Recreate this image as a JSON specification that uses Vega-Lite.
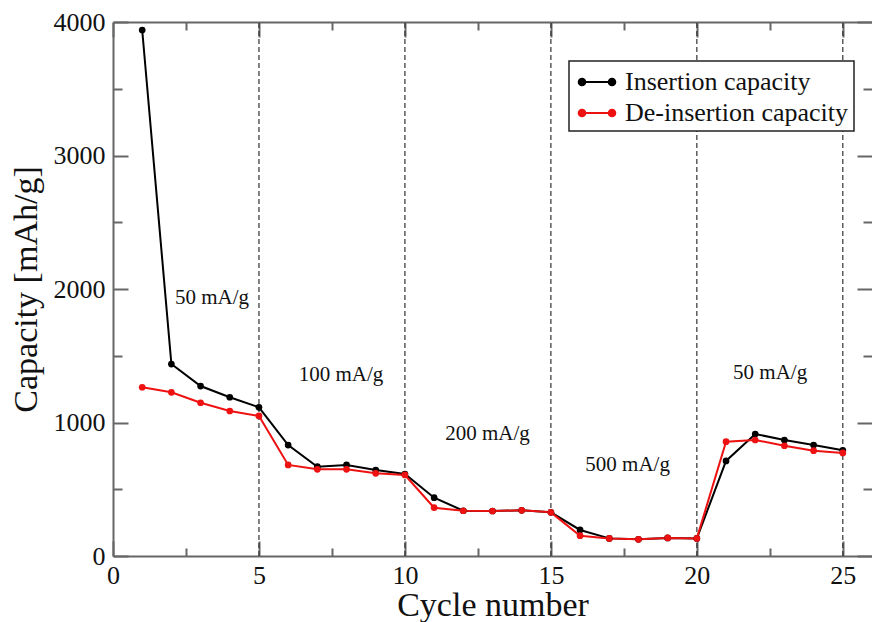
{
  "$schema": "https://vega.github.io/schema/vega-lite/v6.json",
  "width": 759,
  "height": 534,
  "autosize": {"type": "none"},
  "padding": {"left": 113, "top": 22, "right": 0, "bottom": 66},
  "background": "white",
  "config": {
    "view": {"stroke": null},
    "font": "Liberation Serif",
    "axis": {
      "grid": false,
      "labelFlush": false,
      "labelOverlap": false,
      "labelBound": false,
      "tickColor": "#666666",
      "tickWidth": 2,
      "domainColor": "#666666",
      "domainWidth": 2,
      "labelFont": "Liberation Serif",
      "titleFont": "Liberation Serif",
      "labelColor": "#111111",
      "titleColor": "#111111",
      "titleFontWeight": "normal"
    }
  },
  "datasets": {
    "capacity": [
      {"cycle": 1, "series": "Insertion capacity", "capacity": 3940},
      {"cycle": 2, "series": "Insertion capacity", "capacity": 1438},
      {"cycle": 3, "series": "Insertion capacity", "capacity": 1273},
      {"cycle": 4, "series": "Insertion capacity", "capacity": 1189},
      {"cycle": 5, "series": "Insertion capacity", "capacity": 1114},
      {"cycle": 6, "series": "Insertion capacity", "capacity": 831},
      {"cycle": 7, "series": "Insertion capacity", "capacity": 669},
      {"cycle": 8, "series": "Insertion capacity", "capacity": 682},
      {"cycle": 9, "series": "Insertion capacity", "capacity": 644},
      {"cycle": 10, "series": "Insertion capacity", "capacity": 614},
      {"cycle": 11, "series": "Insertion capacity", "capacity": 437},
      {"cycle": 12, "series": "Insertion capacity", "capacity": 339},
      {"cycle": 13, "series": "Insertion capacity", "capacity": 337},
      {"cycle": 14, "series": "Insertion capacity", "capacity": 342},
      {"cycle": 15, "series": "Insertion capacity", "capacity": 327},
      {"cycle": 16, "series": "Insertion capacity", "capacity": 195},
      {"cycle": 17, "series": "Insertion capacity", "capacity": 132},
      {"cycle": 18, "series": "Insertion capacity", "capacity": 125},
      {"cycle": 19, "series": "Insertion capacity", "capacity": 135},
      {"cycle": 20, "series": "Insertion capacity", "capacity": 132},
      {"cycle": 21, "series": "Insertion capacity", "capacity": 712},
      {"cycle": 22, "series": "Insertion capacity", "capacity": 914},
      {"cycle": 23, "series": "Insertion capacity", "capacity": 869},
      {"cycle": 24, "series": "Insertion capacity", "capacity": 831},
      {"cycle": 25, "series": "Insertion capacity", "capacity": 792},
      {"cycle": 1, "series": "De-insertion capacity", "capacity": 1264},
      {"cycle": 2, "series": "De-insertion capacity", "capacity": 1226},
      {"cycle": 3, "series": "De-insertion capacity", "capacity": 1148},
      {"cycle": 4, "series": "De-insertion capacity", "capacity": 1086},
      {"cycle": 5, "series": "De-insertion capacity", "capacity": 1049},
      {"cycle": 6, "series": "De-insertion capacity", "capacity": 682},
      {"cycle": 7, "series": "De-insertion capacity", "capacity": 649},
      {"cycle": 8, "series": "De-insertion capacity", "capacity": 649},
      {"cycle": 9, "series": "De-insertion capacity", "capacity": 619},
      {"cycle": 10, "series": "De-insertion capacity", "capacity": 607},
      {"cycle": 11, "series": "De-insertion capacity", "capacity": 362},
      {"cycle": 12, "series": "De-insertion capacity", "capacity": 339},
      {"cycle": 13, "series": "De-insertion capacity", "capacity": 337},
      {"cycle": 14, "series": "De-insertion capacity", "capacity": 342},
      {"cycle": 15, "series": "De-insertion capacity", "capacity": 327},
      {"cycle": 16, "series": "De-insertion capacity", "capacity": 152},
      {"cycle": 17, "series": "De-insertion capacity", "capacity": 132},
      {"cycle": 18, "series": "De-insertion capacity", "capacity": 125},
      {"cycle": 19, "series": "De-insertion capacity", "capacity": 135},
      {"cycle": 20, "series": "De-insertion capacity", "capacity": 132},
      {"cycle": 21, "series": "De-insertion capacity", "capacity": 856},
      {"cycle": 22, "series": "De-insertion capacity", "capacity": 869},
      {"cycle": 23, "series": "De-insertion capacity", "capacity": 826},
      {"cycle": 24, "series": "De-insertion capacity", "capacity": 789},
      {"cycle": 25, "series": "De-insertion capacity", "capacity": 772}
    ],
    "boundaries": [
      {"cycle": 5}, {"cycle": 10}, {"cycle": 15}, {"cycle": 20}, {"cycle": 25}
    ],
    "rates": [
      {"cycle": 3.39, "capacity": 1933, "label": "50 mA/g"},
      {"cycle": 7.81, "capacity": 1356, "label": "100 mA/g"},
      {"cycle": 12.83, "capacity": 912, "label": "200 mA/g"},
      {"cycle": 17.63, "capacity": 682, "label": "500 mA/g"},
      {"cycle": 22.51, "capacity": 1369, "label": "50 mA/g"}
    ]
  },
  "layer": [
    {
      "data": {"name": "boundaries"},
      "mark": {"type": "rule", "color": "#333333", "strokeWidth": 1.2, "strokeDash": [5, 3]},
      "encoding": {
        "x": {
          "field": "cycle", "type": "quantitative",
          "scale": {"domain": [0, 26], "nice": false, "zero": false},
          "axis": {
            "orient": "bottom", "values": [0, 5, 10, 15, 20, 25], "format": "d",
            "tickSize": -15, "labelPadding": 21, "labelFontSize": 26, "labelFont": "Liberation Serif",
            "title": "Cycle number", "titleFontSize": 34, "titleFont": "Liberation Serif", "titlePadding": 0
          }
        },
        "y": {
          "datum": 0, "type": "quantitative",
          "scale": {"domain": [0, 4000], "nice": false},
          "axis": {
            "orient": "left", "values": [0, 1000, 2000, 3000, 4000], "format": "d",
            "tickSize": -15, "labelPadding": 23, "labelFontSize": 26, "labelFont": "Liberation Serif",
            "title": "Capacity [mAh/g]", "titleFontSize": 34, "titleFont": "Liberation Serif", "titlePadding": 10
          }
        },
        "y2": {"datum": 4000}
      }
    },
    {
      "data": {"name": "capacity"},
      "mark": {"type": "line", "strokeWidth": 2},
      "encoding": {
        "x": {
          "field": "cycle", "type": "quantitative",
          "scale": {"domain": [0, 26], "nice": false, "zero": false},
          "axis": {"orient": "top", "values": [0, 5, 10, 15, 20, 25], "tickSize": -15, "labels": false, "title": null}
        },
        "y": {
          "field": "capacity", "type": "quantitative",
          "scale": {"domain": [0, 4000], "nice": false},
          "axis": {"orient": "right", "values": [0, 1000, 2000, 3000, 4000], "tickSize": -15, "labels": false, "title": null, "domain": false}
        },
        "color": {
          "field": "series", "type": "nominal",
          "scale": {"domain": ["Insertion capacity", "De-insertion capacity"], "range": ["#000000", "#ee1111"]},
          "legend": {
            "title": null, "orient": "none", "legendX": 456, "legendY": 39,
            "symbolType": "M-1,0L1,0M-1.22,0a0.22,0.22 0 1,0 0.44,0a0.22,0.22 0 1,0 -0.44,0M0.78,0a0.22,0.22 0 1,0 0.44,0a0.22,0.22 0 1,0 -0.44,0",
            "symbolSize": 900, "symbolStrokeWidth": 2,
            "labelFont": "Liberation Serif", "labelFontSize": 26, "labelColor": "#111111", "labelLimit": 500,
            "labelOffset": 12, "padding": 5, "symbolOffset": 7, "rowPadding": 2,
            "strokeColor": "#222222", "fillColor": "white", "cornerRadius": 0,
            "encode": {
              "legend": {"update": {"strokeWidth": {"value": 1.5}}},
              "symbols": {"update": {"fill": {"scale": "color", "field": "value"}, "stroke": {"scale": "color", "field": "value"}, "opacity": {"value": 1}}}
            }
          }
        }
      }
    },
    {
      "data": {"name": "capacity"},
      "mark": {"type": "point", "filled": true, "size": 45, "opacity": 1},
      "encoding": {
        "x": {
          "field": "cycle", "type": "quantitative",
          "scale": {"domain": [0, 26], "nice": false, "zero": false},
          "axis": {"orient": "bottom", "values": [2.5, 7.5, 12.5, 17.5, 22.5], "tickSize": -8, "labels": false, "title": null, "domain": false}
        },
        "y": {
          "field": "capacity", "type": "quantitative",
          "scale": {"domain": [0, 4000], "nice": false},
          "axis": {"orient": "left", "values": [500, 1500, 2500, 3500], "tickSize": -9, "labels": false, "title": null, "domain": false}
        },
        "color": {
          "field": "series", "type": "nominal",
          "scale": {"domain": ["Insertion capacity", "De-insertion capacity"], "range": ["#000000", "#ee1111"]},
          "legend": {
            "title": null, "orient": "none", "legendX": 456, "legendY": 39,
            "symbolType": "M-1,0L1,0M-1.22,0a0.22,0.22 0 1,0 0.44,0a0.22,0.22 0 1,0 -0.44,0M0.78,0a0.22,0.22 0 1,0 0.44,0a0.22,0.22 0 1,0 -0.44,0",
            "symbolSize": 900, "symbolStrokeWidth": 2,
            "labelFont": "Liberation Serif", "labelFontSize": 26, "labelColor": "#111111", "labelLimit": 500,
            "labelOffset": 12, "padding": 5, "symbolOffset": 7, "rowPadding": 2,
            "strokeColor": "#222222", "fillColor": "white", "cornerRadius": 0,
            "encode": {
              "legend": {"update": {"strokeWidth": {"value": 1.5}}},
              "symbols": {"update": {"fill": {"scale": "color", "field": "value"}, "stroke": {"scale": "color", "field": "value"}, "opacity": {"value": 1}}}
            }
          }
        }
      }
    },
    {
      "data": {"name": "rates"},
      "mark": {"type": "text", "font": "Liberation Serif", "fontSize": 21, "color": "#111111", "align": "center", "baseline": "middle"},
      "encoding": {
        "x": {
          "field": "cycle", "type": "quantitative",
          "scale": {"domain": [0, 26], "nice": false, "zero": false},
          "axis": {"orient": "top", "values": [2.5, 7.5, 12.5, 17.5, 22.5], "tickSize": -8, "labels": false, "title": null, "domain": false}
        },
        "y": {
          "field": "capacity", "type": "quantitative",
          "scale": {"domain": [0, 4000], "nice": false},
          "axis": {"orient": "right", "values": [500, 1500, 2500, 3500], "tickSize": -9, "labels": false, "title": null, "domain": false}
        },
        "text": {"field": "label", "type": "nominal"}
      }
    }
  ],
  "resolve": {"axis": {"x": "independent", "y": "independent"}}
}
